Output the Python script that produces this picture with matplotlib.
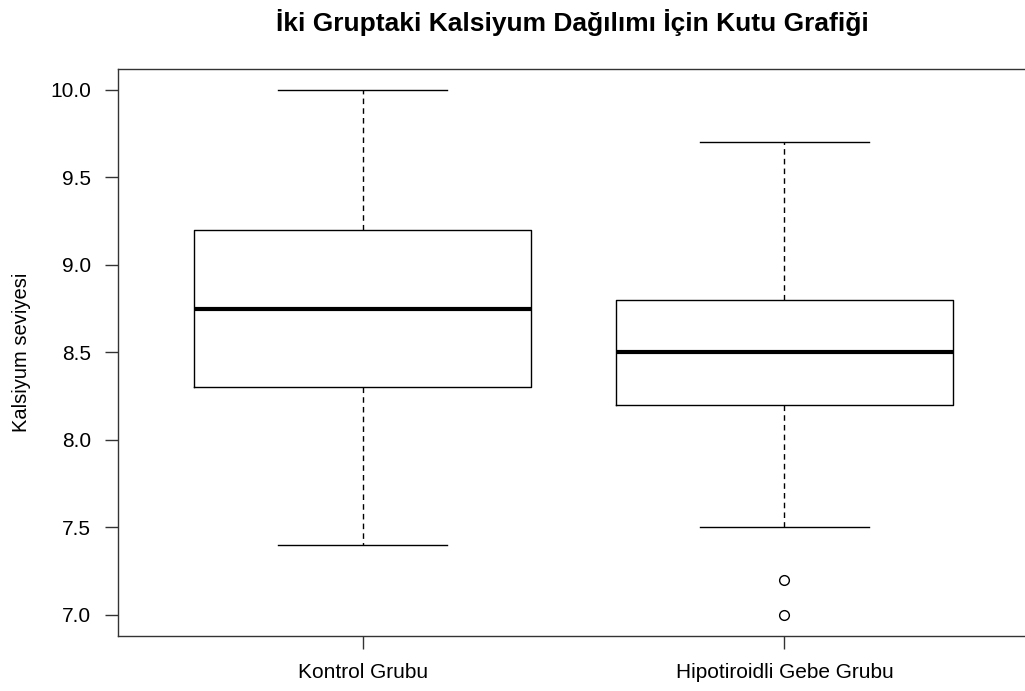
import matplotlib
matplotlib.use('Agg')
import matplotlib.pyplot as plt

plt.rcParams['font.family'] = ['Liberation Sans', 'DejaVu Sans']

# veriler
gruplar = ['Kontrol Grubu', 'Hipotiroidli Gebe Grubu']
alt_biyik = [7.4, 7.5]
q1 = [8.3, 8.2]
medyan = [8.75, 8.5]
q3 = [9.2, 8.8]
ust_biyik = [10.0, 9.7]
aykiri = [[], [7.2, 7.0]]
yticks = [7.0, 7.5, 8.0, 8.5, 9.0, 9.5, 10.0]

stats = []
for i in range(len(gruplar)):
    stats.append(dict(label=gruplar[i], whislo=alt_biyik[i], q1=q1[i], med=medyan[i],
                      q3=q3[i], whishi=ust_biyik[i], fliers=aykiri[i]))

fig = plt.figure(figsize=(10.25, 6.91), dpi=100)
ax = fig.add_axes([118/1025, 1-636/691, (1029-118)/1025, (636-69)/691])

ax.bxp(stats, positions=[1, 2], widths=0.8, showfliers=True,
       boxprops=dict(color='black', linewidth=1),
       medianprops=dict(color='black', linewidth=3),
       whiskerprops=dict(color='black', linewidth=1, linestyle=(0, (4, 3))),
       capprops=dict(color='black', linewidth=1),
       capwidths=0.4,
       flierprops=dict(marker='o', markerfacecolor='white', markeredgecolor='black',
                       markersize=7, markeredgewidth=1))

ax.set_xlim(0.42, 2.58)
ax.set_ylim(6.88, 10.12)
ax.set_yticks(yticks)
ax.set_yticklabels(['%.1f' % v for v in yticks])
ax.tick_params(axis='both', labelsize=15, length=9.5, width=1, colors='#333333')
ax.tick_params(axis='y', pad=10)
ax.tick_params(axis='x', pad=10)
ax.tick_params(axis='both', labelcolor='black')
for s in ax.spines.values():
    s.set_linewidth(1)
    s.set_color('#333333')
ax.set_ylabel('Kalsiyum seviyesi', fontsize=14.5, labelpad=14)

fig.text(572/1025, 1-22/691, 'İki Gruptaki Kalsiyum Dağılımı İçin Kutu Grafiği',
         ha='center', va='center', fontsize=19, fontweight='bold')

fig.savefig('out.png', dpi=100)
